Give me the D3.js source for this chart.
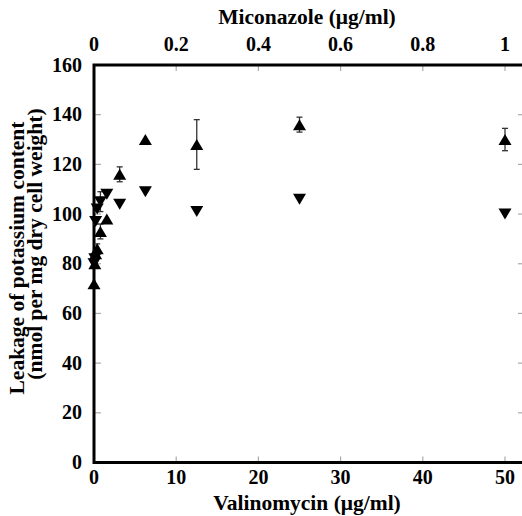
<!DOCTYPE html>
<html>
<head>
<meta charset="utf-8">
<script src="https://cdnjs.cloudflare.com/ajax/libs/d3/7.8.5/d3.min.js"></script>
<style>
  body { margin: 0; background: #fff; }
  svg { display: block; }
  text { font-family: "Liberation Serif", "Times New Roman", serif; font-weight: bold; fill: #000; }
</style>
</head>
<body>
<svg width="522" height="516"></svg>
<script>
// concentrations (valinomycin, ug/ml); miconazole top axis is the same positions / 50
var conc = [0, 0.1, 0.2, 0.39, 0.78, 1.56, 3.125, 6.25, 12.5, 25, 50];
var upVals = [72, 80, 84, 86, 93, 98, 116, 130, 128, 136, 130];
var upErr = [0, 1, 1.5, 2, 3, 0, 3, 0, 10, 3, 4.5];
var downVals = [80, 82, 97, 102, 105, 108, 104, 109, 101, 106, 100];
var downErr = [0, 0, 1, 1, 4, 0, 0, 0, 0, 0, 0];
var yTicks = [0, 20, 40, 60, 80, 100, 120, 140, 160];
var bottomTicks = [0, 10, 20, 30, 40, 50];
var topTicks = [0, 0.2, 0.4, 0.6, 0.8, 1];

(function() {
  var svg = d3.select("svg");
  var pLeft = 94, pRight = 525, pTop = 65, pBottom = 462.5;

  var x = d3.scaleLinear().domain([0, 50]).range([pLeft, 505]);
  var xTop = d3.scaleLinear().domain([0, 1]).range([pLeft, 505]);
  var y = d3.scaleLinear().domain([0, 160]).range([pBottom, pTop]);

  // gray inward tick marks
  var ticks = svg.append("g").attr("stroke", "#aaa").attr("stroke-width", 1.2);
  yTicks.forEach(function(t) {
    ticks.append("line").attr("x1", pLeft).attr("x2", pLeft + 7).attr("y1", y(t)).attr("y2", y(t));
    ticks.append("line").attr("x1", pRight - 7).attr("x2", pRight).attr("y1", y(t)).attr("y2", y(t));
  });
  bottomTicks.forEach(function(t) {
    ticks.append("line").attr("x1", x(t)).attr("x2", x(t)).attr("y1", pBottom).attr("y2", pBottom - 6);
  });
  topTicks.forEach(function(t) {
    ticks.append("line").attr("x1", xTop(t)).attr("x2", xTop(t)).attr("y1", pTop).attr("y2", pTop + 6);
  });

  // frame
  svg.append("rect")
    .attr("x", pLeft).attr("y", pTop)
    .attr("width", pRight - pLeft).attr("height", pBottom - pTop)
    .attr("fill", "none").attr("stroke", "#000").attr("stroke-width", 3);

  // tick labels
  svg.append("g").selectAll("text").data(yTicks).enter().append("text")
    .attr("x", 82).attr("y", function(d) { return y(d) + 6.5; })
    .attr("text-anchor", "end").attr("font-size", 20)
    .text(function(d) { return d; });

  svg.append("g").selectAll("text").data(bottomTicks).enter().append("text")
    .attr("x", function(d) { return x(d); }).attr("y", 484)
    .attr("text-anchor", "middle").attr("font-size", 20)
    .text(function(d) { return d; });

  svg.append("g").selectAll("text").data(topTicks).enter().append("text")
    .attr("x", function(d) { return xTop(d); }).attr("y", 51)
    .attr("text-anchor", "middle").attr("font-size", 20)
    .text(function(d) { return d; });

  // axis titles
  svg.append("text").attr("x", 307).attr("y", 510).attr("text-anchor", "middle")
    .attr("font-size", 21.5).text("Valinomycin (\u03bcg/ml)");
  svg.append("text").attr("x", 307).attr("y", 24).attr("text-anchor", "middle")
    .attr("font-size", 21.5).text("Miconazole (\u03bcg/ml)");
  svg.append("text").attr("transform", "translate(24,258) rotate(-90)")
    .attr("text-anchor", "middle").attr("font-size", 21.5)
    .text("Leakage of potassium content");
  svg.append("text").attr("transform", "translate(42,244) rotate(-90)")
    .attr("text-anchor", "middle").attr("font-size", 21.5)
    .text("(nmol per mg dry cell weight)");

  // error bars
  function errBars(vals, errs) {
    var g = svg.append("g").attr("stroke", "#333").attr("stroke-width", 1.3);
    conc.forEach(function(c, i) {
      if (!errs[i]) return;
      var cx = x(c), y1 = y(vals[i] - errs[i]), y2 = y(vals[i] + errs[i]);
      g.append("line").attr("x1", cx).attr("x2", cx).attr("y1", y1).attr("y2", y2);
      g.append("line").attr("x1", cx - 3).attr("x2", cx + 3).attr("y1", y1).attr("y2", y1);
      g.append("line").attr("x1", cx - 3).attr("x2", cx + 3).attr("y1", y2).attr("y2", y2);
    });
  }
  errBars(upVals, upErr);
  errBars(downVals, downErr);

  // markers
  function tri(cx, cy, dir) {
    var h = 5.5 * dir, w = 6.5;
    return "M" + (cx - w) + "," + (cy + h) + "L" + (cx + w) + "," + (cy + h) + "L" + cx + "," + (cy - h) + "Z";
  }
  svg.append("g").selectAll("path").data(conc).enter().append("path")
    .attr("d", function(d, i) { return tri(x(d), y(upVals[i]), 1); })
    .attr("fill", "#000");
  svg.append("g").selectAll("path").data(conc).enter().append("path")
    .attr("d", function(d, i) { return tri(x(d), y(downVals[i]), -1); })
    .attr("fill", "#000");
})();
</script>
</body>
</html>
